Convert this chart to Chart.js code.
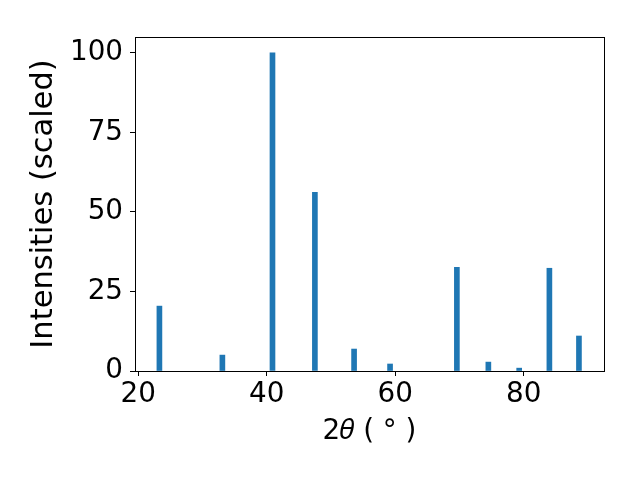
<!DOCTYPE html>
<html>
<head>
<meta charset="utf-8">
<script src="https://cdn.jsdelivr.net/npm/chart.js@4"></script>
<style>
  body { margin: 0; background: #fff; }
  #wrap { width: 640px; height: 480px; }
</style>
</head>
<body>
<div id="wrap"><canvas id="xrd"></canvas></div>
<script>
// 峰位置 (2θ) 和强度
const peakAngles = [23.3, 33.1, 40.9, 47.5, 53.6, 59.2, 69.6, 74.5, 79.3, 84.0, 88.6];
const intensities = [20.4, 5.0, 100, 56.2, 6.9, 2.2, 32.6, 2.8, 0.9, 32.3, 11.0];
const xTicks = [20, 40, 60, 80];
const yTicks = [0, 25, 50, 75, 100];

const font = { family: 'DejaVu Sans', size: 27.8, lineHeight: 1.2 };
const yTitleFont = { family: 'DejaVu Sans', size: 30.5, lineHeight: 1.2 };

// 画四周的边框
const frame = {
    id: 'frame',
    afterDraw(chart) {
        const { ctx, chartArea: a } = chart;
        ctx.save();
        ctx.strokeStyle = '#000';
        ctx.lineWidth = 1;
        ctx.strokeRect(a.left + 0.5, a.top + 0.5, a.right - a.left, a.bottom - a.top);
        ctx.restore();
    }
};

const ctx = document.getElementById('xrd').getContext('2d');
new Chart(ctx, {
    type: 'bar',
    data: {
        datasets: [{
            data: peakAngles.map((x, i) => ({ x, y: intensities[i] })),
            backgroundColor: '#1f77b4',
            borderWidth: 0,
            barThickness: 5
        }]
    },
    plugins: [frame],
    options: {
        responsive: true,
        maintainAspectRatio: false,
        animation: false,
        layout: { padding: { top: 37, right: 36, left: 0, bottom: 0 } },
        plugins: { legend: { display: false }, tooltip: { enabled: false } },
        scales: {
            x: {
                type: 'linear',
                offset: false,
                min: 19.5,
                max: 92.5,
                afterBuildTicks: s => { s.ticks = xTicks.map(v => ({ value: v })); },
                afterFit: s => { s.height = 109; },
                grid: { offset: false, drawOnChartArea: false, drawTicks: true, tickLength: 5, color: '#000' },
                border: { display: false },
                ticks: { color: '#000', font, padding: 2, maxRotation: 0 },
                title: { display: true, text: '2𝜃 ( ° )', color: '#000', font, padding: { top: 0, bottom: 32 } }
            },
            y: {
                min: 0,
                max: 105,
                afterBuildTicks: s => { s.ticks = yTicks.map(v => ({ value: v })); },
                afterFit: s => { s.width = 135; },
                grid: { drawOnChartArea: false, drawTicks: true, tickLength: 5, color: '#000' },
                border: { display: false },
                ticks: { color: '#000', font, padding: 7 },
                title: { display: true, text: 'Intensities (scaled)', color: '#000', font: yTitleFont, padding: { top: 26, bottom: 0 } }
            }
        }
    }
});
</script>
</body>
</html>
